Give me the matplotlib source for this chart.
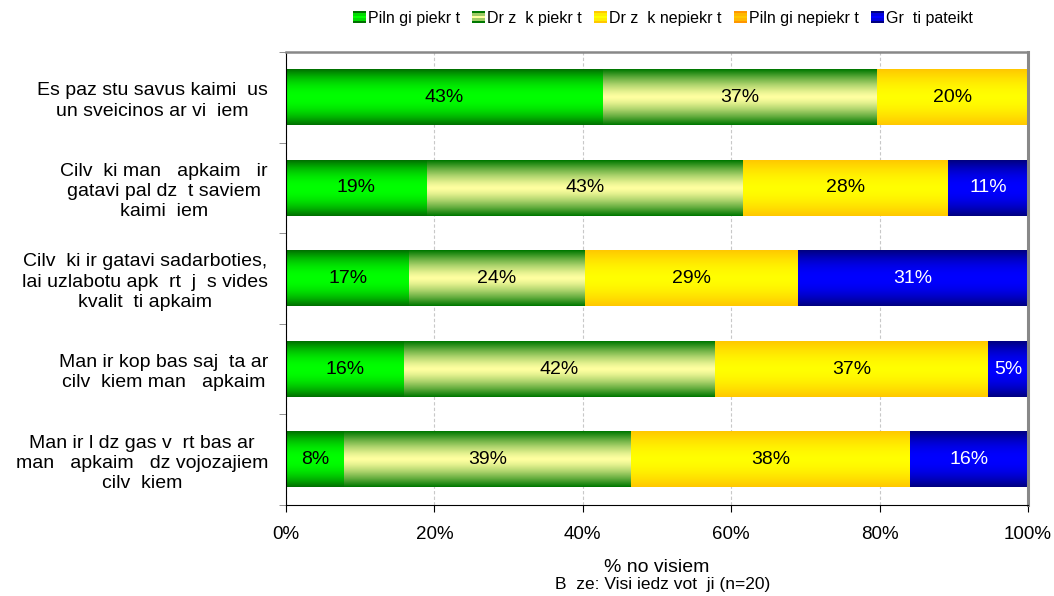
import numpy as np
import matplotlib
matplotlib.use("Agg")
import matplotlib.pyplot as plt
from matplotlib.patches import Rectangle
from matplotlib.legend_handler import HandlerBase

plt.rcParams['font.family'] = ['Liberation Sans', 'DejaVu Sans']

categories = [
    "Es paz stu savus kaimi  us\nun sveicinos ar vi  iem",
    "Cilv  ki man   apkaim   ir\ngatavi pal dz  t saviem\nkaimi  iem",
    "Cilv  ki ir gatavi sadarboties,\nlai uzlabotu apk  rt  j  s vides\nkvalit  ti apkaim",
    "Man ir kop bas saj  ta ar\ncilv  kiem man   apkaim",
    "Man ir l dz gas v  rt bas ar\nman   apkaim   dz vojozajiem\ncilv  kiem",
]
series_names = ["Piln gi piekr t", "Dr z  k piekr t", "Dr z  k nepiekr t",
                "Piln gi nepiekr t", "Gr  ti pateikt"]
piln_piekr = [42.7, 19.0, 16.6, 15.9, 7.8]
drizak_piekr = [36.9, 42.6, 23.7, 41.9, 38.7]
drizak_nepiekr = [20.4, 27.6, 28.7, 36.8, 37.6]
piln_nepiekr = [0, 0, 0, 0, 0]
grutipateikt = [0, 10.8, 31.0, 5.4, 15.9]
xticks = [0, 20, 40, 60, 80, 100]
xticklabels = ["0%", "20%", "40%", "60%", "80%", "100%"]
xlabel = "% no visiem"
note = "B  ze: Visi iedz vot  ji (n=20)"

series = [piln_piekr, drizak_piekr, drizak_nepiekr, piln_nepiekr, grutipateikt]
# (edge colour, centre colour, exponent)
grads = [
    ((0, 112, 0), (0, 255, 0), 2.0),
    ((0, 120, 0), (255, 255, 160), 1.4),
    ((255, 200, 0), (255, 255, 0), 1.6),
    ((255, 150, 0), (255, 200, 0), 1.6),
    ((0, 0, 128), (0, 0, 255), 2.0),
]
text_colors = ['black', 'black', 'black', 'black', 'white']


def gradient(edge, centre, p, n=64):
    t = np.abs(np.linspace(-1, 1, n)) ** p
    e = np.array(edge) / 255.0
    c = np.array(centre) / 255.0
    col = c[None, :] + (e - c)[None, :] * t[:, None]
    return col[:, None, :]


fig = plt.figure(figsize=(10.54, 5.96), dpi=100)
ax = fig.add_axes([286 / 1054, 1 - 505 / 596, (1028 - 286) / 1054, (505 - 52) / 596])

y = np.arange(len(categories))
left = np.zeros(len(categories))
bar_h = 0.61
for i, vals in enumerate(series):
    vals = np.array(vals, dtype=float)
    bars = ax.barh(y, vals, left=left, height=bar_h, color='none', zorder=3,
                   label=series_names[i])
    img = gradient(*grads[i])
    for b, v in zip(bars, vals):
        if v <= 0:
            continue
        x0, y0 = b.get_x(), b.get_y()
        w, h = b.get_width(), b.get_height()
        ax.imshow(img, extent=[x0, x0 + w, y0 + h, y0], aspect='auto',
                  interpolation='bilinear', zorder=2)
        ax.text(x0 + w / 2, y0 + h / 2, f"{round(v):d}%", ha='center', va='center',
                fontsize=14, color=text_colors[i], zorder=4)
    left = left + vals

ax.set_xlim(0, 100)
ax.set_ylim(len(categories) - 0.5, -0.5)
ax.set_xticks(xticks)
ax.set_xticklabels(xticklabels, fontsize=13.5)
ax.set_yticks(y)
ax.set_yticklabels(categories, fontsize=14, multialignment='center', linespacing=1.25)
ax.tick_params(axis='y', length=0, pad=13)
ax.set_yticks(np.arange(len(categories) + 1) - 0.5, minor=True)
ax.tick_params(axis='y', which='minor', length=5, color='#808080')
ax.tick_params(axis='x', length=5, pad=10)
ax.set_xlabel(xlabel, fontsize=14, labelpad=12)
ax.grid(axis='x', color='#c8c8c8', linestyle=(0, (3, 2)), linewidth=0.8, zorder=0)
ax.set_axisbelow(True)
ax.spines['left'].set_color('black')
ax.spines['bottom'].set_color('black')
ax.spines['top'].set_color('#888888')
ax.spines['right'].set_color('#888888')
ax.spines['top'].set_linewidth(1.8)
ax.spines['right'].set_linewidth(2.2)

fig.text(663 / 1054, 1 - 585 / 596, note, ha='center', va='center', fontsize=12.5)


class GradHandler(HandlerBase):
    def __init__(self, g):
        super().__init__()
        self.g = g

    def create_artists(self, legend, orig_handle, xdescent, ydescent, width, height,
                       fontsize, trans):
        edge, centre, p = self.g
        n = 5
        arts = []
        img = gradient(edge, centre, p, n)[:, 0, :]
        for k in range(n):
            r = Rectangle((-xdescent, -ydescent + height * k / n), width, height / n,
                          facecolor=img[k], edgecolor='none', transform=trans)
            arts.append(r)
        return arts


handles = [Rectangle((0, 0), 1, 1) for _ in series_names]
leg = fig.legend(handles, series_names, loc='center', bbox_to_anchor=(663 / 1054, 1 - 18 / 596),
                 ncol=5, frameon=False, fontsize=11.5, handlelength=0.8, handleheight=0.8,
                 handletextpad=0.15, columnspacing=0.75,
                 handler_map={h: GradHandler(g) for h, g in zip(handles, grads)})

fig.savefig("out.png", dpi=100)
